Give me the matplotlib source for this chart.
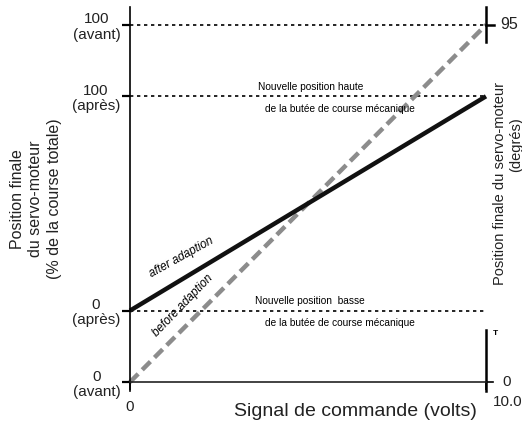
import matplotlib
matplotlib.use("Agg")
from matplotlib import pyplot as plt

plt.rcParams['font.family'] = ['Liberation Sans', 'DejaVu Sans']

# data: command signal (volts) vs final position (% of total travel, "avant" scale)
signal = [0, 10]
before_adapt = [0, 100]
after_adapt = [20, 80]
stop_high_avant = 100
stop_high_apres = 80
stop_low_apres = 20
y_ticks = [0, 20, 80, 100]
y_ticklabels = ["0\n(avant)", "0\n(après)", "100\n(après)", "100\n(avant)"]

W, H = 522, 423
fig = plt.figure(figsize=(W / 100, H / 100), dpi=100)
ax = fig.add_axes([130 / W, (H - 391) / H, 356 / W, (391 - 7) / H])
ax.set_xlim(0, 10)
ax.set_ylim(-2.5, 105)

for s in ['top', 'right']:
    ax.spines[s].set_visible(False)
ax.spines['left'].set_linewidth(1.2)
ax.spines['bottom'].set_position(('data', 0))
ax.spines['bottom'].set_linewidth(1.2)
ax.spines['bottom'].set_color('#222222')

ax.set_yticks(y_ticks)
ax.set_yticklabels(y_ticklabels, fontsize=11, multialignment='center', color='#222222',
                   linespacing=1.12)
ax.tick_params(axis='y', direction='out', length=6, width=1.6, pad=1)
ax.set_xticks(signal)
ax.set_xticklabels([])
ax.tick_params(axis='x', direction='out', length=6, width=1.2)

# dotted stop lines
for yv in [stop_high_avant, stop_high_apres, stop_low_apres]:
    ax.plot([0, 10], [yv, yv], color='black', lw=1.2, dashes=(2, 2.2))

# curves
ax.plot(signal, before_adapt, color='#8c8c8c', lw=3.2, dashes=(2.6, 1.3), clip_on=False)
ax.plot(signal, after_adapt, color='#111111', lw=3.2, solid_capstyle='butt', clip_on=False)

# right axis pieces
ax.plot([10, 10], [95.3, 105], color='black', lw=1.8, clip_on=False)
ax.plot([10, 10], [-2.5, 14.5], color='black', lw=1.8, clip_on=False)
ax.plot([10, 10.22], [100, 100], color='black', lw=1.8, clip_on=False)
ax.plot([10, 10.2], [0, 0], color='black', lw=1.2, clip_on=False)
ax.text(10.4, 100, "95", fontsize=11.5, va='center', ha='left', color='#222222')
ax.text(10.45, 0, "0", fontsize=11, va='center', ha='left', color='#222222')
ax.text(10.2, 13.5, "T", fontsize=6, fontweight='bold', va='center', ha='left')

# x tick labels
ax.text(0, -7, "0", fontsize=11, ha='center', va='center', color='#222222', clip_on=False)
ax.text(10.6, -5.6, "10.0", fontsize=11, ha='center', va='center', color='#222222',
        clip_on=False)

# stop annotations
ax.text(3.6, 81.3, "Nouvelle position haute", fontsize=7.3, ha='left', va='bottom')
ax.text(3.8, 77.8, "de la butée de course mécanique", fontsize=7.3, ha='left', va='top')
ax.text(3.5, 21.3, "Nouvelle position  basse", fontsize=7.3, ha='left', va='bottom')
ax.text(3.8, 17.8, "de la butée de course mécanique", fontsize=7.3, ha='left', va='top')

# curve labels
ax.text(1.45, 35, "after adaption", fontsize=8.5, style='italic', rotation=29,
        ha='center', va='center')
ax.text(1.5, 21.5, "before adaption", fontsize=8.5, style='italic', rotation=46,
        ha='center', va='center')

# axis titles
fig.text(355 / W, 1 - 411 / H, "Signal de commande (volts)", fontsize=14,
         ha='center', va='center', color='#222222')
fig.text(36 / W, 1 - 199 / H, "Position finale\ndu servo-moteur\n(% de la course totale)",
         fontsize=11.5, rotation=90, ha='center', va='center', multialignment='center',
         linespacing=1.27, color='#222222')
fig.text(500 / W, 1 - 183 / H, "Position finale du servo-moteur", fontsize=10.5,
         rotation=90, ha='center', va='center', color='#222222')
fig.text(516 / W, 1 - 145 / H, "(degrés)", fontsize=10.5,
         rotation=90, ha='center', va='center', color='#222222')

fig.savefig("out.png", dpi=100)
